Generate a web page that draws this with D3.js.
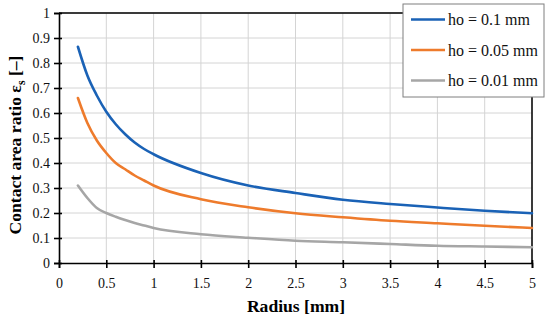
<!DOCTYPE html>
<html>
<head>
<meta charset="utf-8">
<script src="https://cdn.jsdelivr.net/npm/d3@7"></script>
<style>
  body { margin: 0; background: #fff; }
  svg { font-family: "Liberation Serif", "DejaVu Serif", serif; }
</style>
</head>
<body>
<div id="chart"></div>
<script>
// radius values (mm)
const radius = [0.2, 0.3, 0.4, 0.5, 0.6, 0.7, 0.8, 0.9, 1, 1.5, 2, 2.5, 3, 3.5, 4, 4.5, 5];
// contact area ratio for each gap height
const ho01  = [0.865, 0.75, 0.67, 0.605, 0.555, 0.515, 0.482, 0.456, 0.435, 0.36, 0.31, 0.28, 0.253, 0.236, 0.222, 0.209, 0.199];
const ho005 = [0.66, 0.56, 0.49, 0.44, 0.40, 0.375, 0.35, 0.33, 0.31, 0.255, 0.223, 0.199, 0.183, 0.169, 0.159, 0.149, 0.14];
const ho001 = [0.31, 0.26, 0.22, 0.2, 0.185, 0.172, 0.16, 0.15, 0.14, 0.115, 0.101, 0.089, 0.083, 0.076, 0.069, 0.066, 0.063];
const seriesNames = ["ho = 0.1 mm", "ho = 0.05 mm", "ho = 0.01 mm"];
const colors = ["#1a62b6", "#ee7b2c", "#a6a6a6"];
const xTicks = [0, 0.5, 1, 1.5, 2, 2.5, 3, 3.5, 4, 4.5, 5];
const yTicks = [0, 0.1, 0.2, 0.3, 0.4, 0.5, 0.6, 0.7, 0.8, 0.9, 1];

const W = 550, H = 322;
const margin = {top: 13, right: 18, bottom: 59, left: 59};
const iw = W - margin.left - margin.right;
const ih = H - margin.top - margin.bottom;

const svg = d3.select("#chart").append("svg")
    .attr("width", W)
    .attr("height", H);

const g = svg.append("g")
    .attr("transform", `translate(${margin.left},${margin.top})`);

const x = d3.scaleLinear().domain([0, 5]).range([0, iw]);
const y = d3.scaleLinear().domain([0, 1]).range([ih, 0]);

// gridlines
g.append("g").selectAll("line")
    .data(yTicks.slice(1))
    .enter().append("line")
    .attr("x1", 0).attr("x2", iw)
    .attr("y1", d => y(d)).attr("y2", d => y(d))
    .attr("stroke", "#d4d4d4").attr("stroke-width", 1);
g.append("g").selectAll("line")
    .data(xTicks.slice(1))
    .enter().append("line")
    .attr("y1", 0).attr("y2", ih)
    .attr("x1", d => x(d)).attr("x2", d => x(d))
    .attr("stroke", "#d4d4d4").attr("stroke-width", 1);

// plot frame (top and right)
g.append("path")
    .attr("d", `M0,0H${iw}V${ih}`)
    .attr("fill", "none")
    .attr("stroke", "#000")
    .attr("stroke-width", 1.5);

// series
const series = [ho01, ho005, ho001];
const line = d3.line()
    .x((d, i) => x(radius[i]))
    .y(d => y(d))
    .curve(d3.curveMonotoneX);

g.selectAll("path.series")
    .data(series)
    .enter().append("path")
    .attr("class", "series")
    .attr("d", d => line(d))
    .attr("fill", "none")
    .attr("stroke", (d, i) => colors[i])
    .attr("stroke-width", 2.6)
    .attr("stroke-linecap", "round");

// axes
const xAxis = g.append("g")
    .attr("transform", `translate(0,${ih})`)
    .call(d3.axisBottom(x).tickValues(xTicks).tickSize(5).tickPadding(10).tickFormat(d3.format("")));
const yAxis = g.append("g")
    .call(d3.axisLeft(y).tickValues(yTicks).tickSize(5).tickPadding(4).tickFormat(d3.format("")));

[xAxis, yAxis].forEach(a => {
  a.select(".domain").attr("stroke", "#000").attr("stroke-width", 1.6);
  a.selectAll(".tick line").attr("stroke", "#000").attr("stroke-width", 1.6);
  a.selectAll(".tick text")
    .attr("font-family", "Liberation Serif, serif")
    .attr("font-size", 14)
    .attr("fill", "#111");
});
// ticks cross the axis line
xAxis.selectAll(".tick line").attr("y1", -3);
yAxis.selectAll(".tick line").attr("x1", 3);

// axis titles
svg.append("text")
    .attr("x", 296)
    .attr("y", 312)
    .attr("text-anchor", "middle")
    .attr("font-size", 17.6)
    .attr("font-weight", "bold")
    .text("Radius [mm]");

const yt = svg.append("text")
    .attr("transform", "translate(21,145) rotate(-90)")
    .attr("text-anchor", "middle")
    .attr("font-size", 17.6)
    .attr("font-weight", "bold");
yt.append("tspan").text("Contact area ratio ε");
yt.append("tspan").attr("font-size", 12).attr("dy", 4).text("s");
yt.append("tspan").attr("dy", -4).text(" [–]");

// legend
const lg = svg.append("g").attr("transform", "translate(403,4)");
lg.append("rect")
    .attr("width", 141).attr("height", 93)
    .attr("fill", "#fff")
    .attr("stroke", "#7f7f7f")
    .attr("stroke-width", 1);
const items = lg.selectAll("g.item")
    .data(seriesNames)
    .enter().append("g")
    .attr("class", "item")
    .attr("transform", (d, i) => `translate(0,${15.5 + i * 30.5})`);
items.append("line")
    .attr("x1", 8).attr("x2", 42)
    .attr("stroke", (d, i) => colors[i])
    .attr("stroke-width", 2.6);
items.append("text")
    .attr("x", 45)
    .attr("dy", "0.35em")
    .attr("font-size", 16)
    .attr("fill", "#111")
    .text(d => d);
</script>
</body>
</html>
